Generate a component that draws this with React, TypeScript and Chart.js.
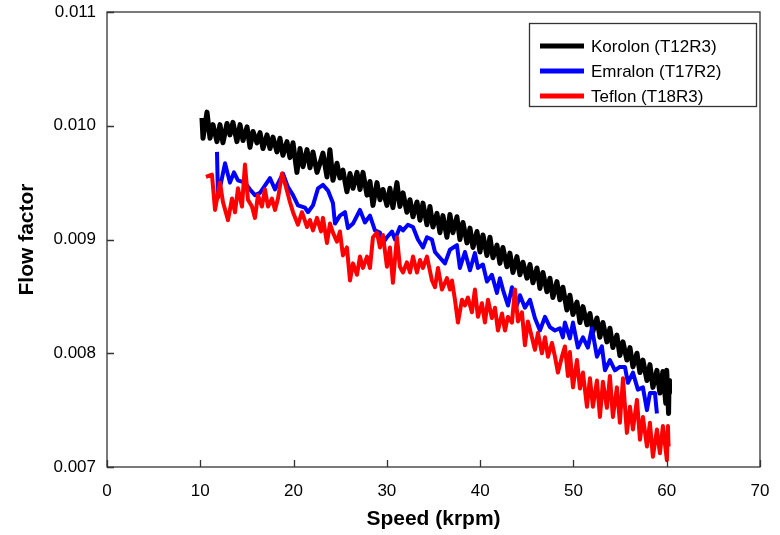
import React, { useEffect, useRef } from "react";
import { Chart, registerables } from "chart.js";

Chart.register(...registerables);

// ---------- data ----------
const korolonSpeed = [
  10.18, 10.29, 10.72, 11.04, 11.36, 11.79, 12.11, 12.43, 12.86, 13.18,
  13.5, 13.93, 14.26, 14.58, 15.01, 15.33, 15.65, 16.08, 16.4, 16.72,
  17.15, 17.47, 17.79, 18.22, 18.54, 18.86, 19.29, 19.61, 19.94, 20.36,
  20.69, 21.01, 21.44, 21.76, 22.08, 22.51, 22.83, 23.15, 23.58, 23.9,
  24.22, 24.65, 24.97, 25.29, 25.72, 26.05, 26.37, 26.8, 27.12, 27.44,
  27.87, 28.19, 28.51, 28.94, 29.26, 29.58, 30.01, 30.33, 30.65, 31.08,
  31.4, 31.73, 32.15, 32.48, 32.8, 33.23, 33.55, 33.87, 34.3, 34.62,
  34.94, 35.37, 35.69, 36.01, 36.44, 36.76, 37.08, 37.51, 37.83, 38.16,
  38.59, 38.91, 39.23, 39.66, 39.98, 40.3, 40.73, 41.05, 41.37, 41.8,
  42.12, 42.44, 42.87, 43.19, 43.52, 43.94, 44.27, 44.59, 45.02, 45.34,
  45.66, 46.09, 46.41, 46.73, 47.16, 47.48, 47.8, 48.23, 48.55, 48.87,
  49.3, 49.62, 49.95, 50.38, 50.7, 51.02, 51.45, 51.77, 52.09, 52.52,
  52.84, 53.16, 53.59, 53.91, 54.23, 54.66, 54.98, 55.31, 55.73, 56.06,
  56.38, 56.81, 57.13, 57.45, 57.88, 58.2, 58.52, 58.95, 59.27, 59.59,
  59.9, 60.0, 60.2, 60.25, 60.3,
];
const korolonFlow = [
  0.01007, 0.00989, 0.01012, 0.00989, 0.01001, 0.00986, 0.01001, 0.00985, 0.01002, 0.00992,
  0.01003, 0.00986, 0.01001, 0.00987, 0.00999, 0.00981, 0.00995, 0.00985, 0.00994, 0.0098,
  0.00992, 0.0098, 0.0099, 0.00977, 0.00989, 0.00974, 0.00986, 0.00972, 0.00985, 0.00959,
  0.0098, 0.00964, 0.00979, 0.00963, 0.00977, 0.00959, 0.00967, 0.00976, 0.00955, 0.00979,
  0.00952, 0.00967, 0.00954, 0.00961, 0.00942, 0.00958, 0.00945, 0.00959, 0.00944, 0.00959,
  0.00939, 0.00951, 0.0093, 0.0095, 0.00935, 0.00944, 0.0093, 0.00945, 0.00928, 0.0095,
  0.00929, 0.00941, 0.00924, 0.00935, 0.0092, 0.00933, 0.00917, 0.00932, 0.00913, 0.00929,
  0.00911, 0.00923, 0.00906, 0.00921, 0.00902, 0.00922, 0.00906, 0.0092, 0.009, 0.00915,
  0.00897, 0.0091, 0.00893, 0.00907, 0.00889, 0.00904, 0.00886, 0.00902, 0.00884, 0.00895,
  0.00879, 0.00893, 0.00876, 0.00888, 0.00871, 0.00885, 0.00869, 0.0088, 0.00866, 0.00878,
  0.00862, 0.00875, 0.00857, 0.00871, 0.00854, 0.00866, 0.00849, 0.00863, 0.00847, 0.00858,
  0.00838, 0.00851, 0.00834, 0.00845, 0.00827, 0.00841, 0.00825, 0.00835, 0.00819, 0.00831,
  0.00814, 0.00827, 0.0081, 0.00822, 0.00805, 0.00816, 0.00798, 0.0081, 0.00794, 0.00805,
  0.00788, 0.008, 0.00783, 0.00794, 0.00776, 0.0079, 0.0077, 0.00785, 0.00765, 0.00784,
  0.00756, 0.00785, 0.00747, 0.00776, 0.00765,
];

const emralonSpeed = [
  11.79, 11.9, 12.65, 13.18, 13.61, 14.04, 14.79, 15.33, 15.86, 16.4,
  17.47, 18.01, 18.86, 19.4, 19.94, 20.47, 21.22, 21.54, 22.08, 22.62,
  23.15, 23.69, 24.22, 24.44, 24.97, 25.51, 25.83, 26.37, 27.12, 27.65,
  28.19, 28.72, 29.26, 29.58, 30.01, 30.55, 30.87, 31.4, 31.73, 32.26,
  32.8, 33.33, 33.87, 34.3, 34.83, 35.16, 35.69, 36.23, 36.76, 37.51,
  37.83, 38.37, 38.91, 39.44, 39.76, 40.3, 40.73, 41.26, 41.8, 42.12,
  42.44, 42.98, 43.41, 43.94, 44.27, 44.8, 45.34, 45.87, 46.41, 46.95,
  47.48, 48.02, 48.55, 48.87, 49.09, 49.62, 49.95, 50.48, 51.02, 51.55,
  51.98, 52.52, 53.05, 53.38, 53.91, 54.45, 54.98, 55.52, 55.84, 56.38,
  56.91, 57.45, 57.88, 58.2, 58.74, 58.95,
];
const emralonFlow = [
  0.00977, 0.00937, 0.00967, 0.0095, 0.00959, 0.00952, 0.0095, 0.00944, 0.00939, 0.00941,
  0.00954, 0.00944, 0.00958, 0.00946, 0.00939, 0.0093, 0.00928, 0.00924, 0.0093, 0.00945,
  0.00948, 0.00943, 0.00932, 0.00914, 0.00921, 0.00924, 0.0091, 0.00914, 0.00926, 0.00915,
  0.00921, 0.00908, 0.00906, 0.00897, 0.00902, 0.00907, 0.009, 0.00911, 0.00908, 0.00913,
  0.00911, 0.009, 0.00893, 0.00902, 0.009, 0.00889, 0.00884, 0.00879, 0.00891, 0.00895,
  0.00875, 0.00889, 0.00873, 0.00888, 0.00875, 0.00878, 0.00863, 0.00869, 0.00853, 0.00866,
  0.00856, 0.00842, 0.00858, 0.00842, 0.00851, 0.0084, 0.00847, 0.00831, 0.0082, 0.00832,
  0.00823, 0.0082, 0.00822, 0.00814, 0.00827, 0.00813, 0.00827, 0.00805, 0.00814, 0.00805,
  0.00822, 0.00797, 0.00806, 0.00785, 0.00794, 0.00785, 0.00788, 0.00788, 0.00774, 0.00783,
  0.00768, 0.0077, 0.0075, 0.00765, 0.00765, 0.00747,
];

const teflonSpeed = [
  10.61, 11.25, 11.58, 12.11, 12.43, 12.97, 13.4, 13.72, 14.04, 14.47,
  14.79, 15.11, 15.54, 15.86, 16.18, 16.61, 16.93, 17.26, 17.68, 18.01,
  18.33, 18.76, 19.19, 19.61, 19.94, 20.47, 20.9, 21.44, 21.76, 22.08,
  22.51, 22.94, 23.15, 23.58, 23.9, 24.22, 24.65, 24.97, 25.29, 25.72,
  26.05, 26.37, 26.8, 27.12, 27.44, 27.87, 28.19, 28.51, 28.94, 29.26,
  29.58, 30.01, 30.33, 30.65, 31.08, 31.4, 31.73, 32.15, 32.48, 32.8,
  33.23, 33.55, 33.87, 34.3, 34.83, 35.16, 35.48, 35.91, 36.44, 36.76,
  36.98, 37.3, 37.62, 38.05, 38.37, 38.69, 39.12, 39.44, 39.76, 40.19,
  40.51, 40.84, 41.26, 41.59, 41.91, 42.34, 42.66, 42.98, 43.41, 43.73,
  44.05, 44.48, 44.8, 45.12, 45.55, 45.87, 46.2, 46.62, 46.95, 47.27,
  47.7, 48.02, 48.34, 48.77, 49.09, 49.41, 49.62, 49.95, 50.38, 50.7,
  51.02, 51.45, 51.77, 52.09, 52.52, 52.84, 53.16, 53.59, 53.91, 54.23,
  54.66, 54.98, 55.31, 55.73, 56.06, 56.38, 56.81, 57.13, 57.45, 57.88,
  58.2, 58.52, 58.95, 59.27, 59.59, 60.02, 60.13, 60.2,
];
const teflonFlow = [
  0.00955, 0.00957, 0.00926, 0.0095, 0.00933, 0.00917, 0.00936, 0.00924, 0.00945, 0.00929,
  0.00966, 0.00935, 0.00929, 0.00919, 0.00939, 0.00929, 0.00944, 0.00929, 0.00936, 0.00926,
  0.00936, 0.00958, 0.00946, 0.00933, 0.00924, 0.00913, 0.00924, 0.00911, 0.00917, 0.00908,
  0.00919, 0.00907, 0.00919, 0.00897, 0.00914, 0.00906, 0.00898, 0.00907, 0.00886, 0.00893,
  0.00864, 0.00879, 0.00869, 0.00885, 0.00875, 0.00885, 0.00875, 0.00902, 0.00906, 0.00893,
  0.00904, 0.00876, 0.00893, 0.00862, 0.00902, 0.00876, 0.00871, 0.0088, 0.00871, 0.00885,
  0.00871, 0.00882, 0.00875, 0.00885, 0.00864, 0.00858, 0.00875, 0.00856, 0.00866, 0.00856,
  0.00864, 0.00847, 0.00827, 0.00847, 0.00842, 0.00849, 0.00836, 0.00856, 0.00832, 0.00844,
  0.00827, 0.00847, 0.00831, 0.0084, 0.0082, 0.00835, 0.0082, 0.00832, 0.00827, 0.00856,
  0.00828, 0.00836, 0.00807, 0.00828, 0.00814, 0.00803, 0.00818, 0.008, 0.00814, 0.00797,
  0.00809, 0.00797, 0.00783, 0.00797, 0.00806, 0.0078, 0.00801, 0.0077, 0.00794, 0.00769,
  0.00783, 0.00753, 0.00778, 0.00753, 0.00776, 0.00744, 0.00775, 0.00752, 0.0078, 0.00744,
  0.0077, 0.00739, 0.00778, 0.0073, 0.00753, 0.00733, 0.00759, 0.00724, 0.00744, 0.00718,
  0.00739, 0.00709, 0.00733, 0.00712, 0.00736, 0.00706, 0.00736, 0.00718,
];

const seriesLabels = ["Korolon (T12R3)", "Emralon (T17R2)", "Teflon (T18R3)"];
const seriesColors = ["#000000", "#0000ff", "#ff0000"];
const xTickValues = [0, 10, 20, 30, 40, 50, 60, 70];
const yTickValues = [0.007, 0.008, 0.009, 0.01, 0.011];
const xTitle = "Speed (krpm)";
const yTitle = "Flow factor";

const FONT = '"Liberation Sans", Arial, Helvetica, sans-serif';

function toPoints(xs: number[], ys: number[]) {
  return xs.map((x, i) => ({ x, y: ys[i] }));
}

const framePlugin = {
  id: "frameAndLegend",
  afterDatasetsDraw(chart: any) {
    const { ctx, chartArea: a, scales } = chart;
    const xs = scales.x;
    const ys = scales.y;
    ctx.save();
    ctx.strokeStyle = "#333333";
    ctx.lineWidth = 1.3;
    ctx.strokeRect(a.left, a.top, a.right - a.left, a.bottom - a.top);
    ctx.beginPath();
    xTickValues.forEach((v) => {
      const px = Math.round(xs.getPixelForValue(v)) + 0.5;
      ctx.moveTo(px, a.bottom);
      ctx.lineTo(px, a.bottom - 7);
    });
    yTickValues.forEach((v) => {
      const py = Math.round(ys.getPixelForValue(v)) + 0.5;
      ctx.moveTo(a.left, py);
      ctx.lineTo(a.left + 7, py);
    });
    ctx.stroke();

    // legend box
    const bx = 529.5;
    const by = 23.5;
    const bw = 227;
    const bh = 83;
    ctx.fillStyle = "#ffffff";
    ctx.fillRect(bx, by, bw, bh);
    ctx.strokeStyle = "#333333";
    ctx.lineWidth = 1.3;
    ctx.strokeRect(bx, by, bw, bh);
    chart.data.datasets.forEach((ds: any, i: number) => {
      const ry = 46 + i * 25;
      ctx.strokeStyle = ds.borderColor;
      ctx.lineWidth = 5;
      ctx.beginPath();
      ctx.moveTo(540, ry);
      ctx.lineTo(584, ry);
      ctx.stroke();
      ctx.fillStyle = "#000000";
      ctx.font = `17px ${FONT}`;
      ctx.textBaseline = "middle";
      ctx.textAlign = "left";
      ctx.fillText(ds.label, 591, ry + 1);
    });
    ctx.restore();
  },
};

export default function App() {
  const canvasRef = useRef<HTMLCanvasElement | null>(null);

  useEffect(() => {
    if (!canvasRef.current) return;
    const chart = new Chart(canvasRef.current, {
      type: "line",
      data: {
        datasets: [
          {
            label: seriesLabels[0],
            data: toPoints(korolonSpeed, korolonFlow),
            borderColor: seriesColors[0],
            backgroundColor: seriesColors[0],
            borderWidth: 5,
            order: 3,
          },
          {
            label: seriesLabels[1],
            data: toPoints(emralonSpeed, emralonFlow),
            borderColor: seriesColors[1],
            backgroundColor: seriesColors[1],
            borderWidth: 4,
            order: 2,
          },
          {
            label: seriesLabels[2],
            data: toPoints(teflonSpeed, teflonFlow),
            borderColor: seriesColors[2],
            backgroundColor: seriesColors[2],
            borderWidth: 4,
            order: 1,
          },
        ],
      },
      options: {
        animation: false,
        responsive: true,
        maintainAspectRatio: false,
        devicePixelRatio: 1,
        parsing: false,
        elements: {
          point: { radius: 0, hoverRadius: 0 },
          line: { tension: 0, borderJoinStyle: "round", borderCapStyle: "butt" },
        },
        layout: { padding: { top: 12, right: 20, left: 0, bottom: 0 } },
        plugins: {
          legend: { display: false },
          tooltip: { enabled: false },
        },
        scales: {
          x: {
            type: "linear",
            min: 0,
            max: 70,
            grid: { display: false, drawTicks: false },
            border: { display: false },
            afterBuildTicks: (s: any) => {
              s.ticks = xTickValues.map((v) => ({ value: v }));
            },
            afterFit: (s: any) => {
              s.height = 68;
              s.paddingLeft = 0;
              s.paddingRight = 0;
            },
            ticks: {
              color: "#000000",
              font: { family: FONT, size: 17 },
              padding: 14,
              maxRotation: 0,
              callback: (v: any) => String(v),
            },
            title: {
              display: true,
              text: xTitle,
              color: "#000000",
              font: { family: FONT, size: 21, weight: "bold" },
              padding: { top: 0, bottom: 3 },
            },
          },
          y: {
            type: "linear",
            min: 0.007,
            max: 0.011,
            grid: { display: false, drawTicks: false },
            border: { display: false },
            afterBuildTicks: (s: any) => {
              s.ticks = yTickValues.map((v) => ({ value: v }));
            },
            afterFit: (s: any) => {
              s.width = 107;
              s.paddingTop = 0;
              s.paddingBottom = 0;
            },
            ticks: {
              color: "#000000",
              font: { family: FONT, size: 17 },
              padding: 11,
              callback: (v: any) => Number(v).toFixed(3),
            },
            title: {
              display: true,
              text: yTitle,
              color: "#000000",
              font: { family: FONT, size: 21, weight: "bold" },
              padding: { top: 15, bottom: 15 },
            },
          },
        },
      },
      plugins: [framePlugin],
    });
    return () => chart.destroy();
  }, []);

  return (
    <div style={{ position: "absolute", left: 0, top: 0, width: 780, height: 535, background: "#ffffff" }}>
      <canvas ref={canvasRef} width={780} height={535} />
    </div>
  );
}
